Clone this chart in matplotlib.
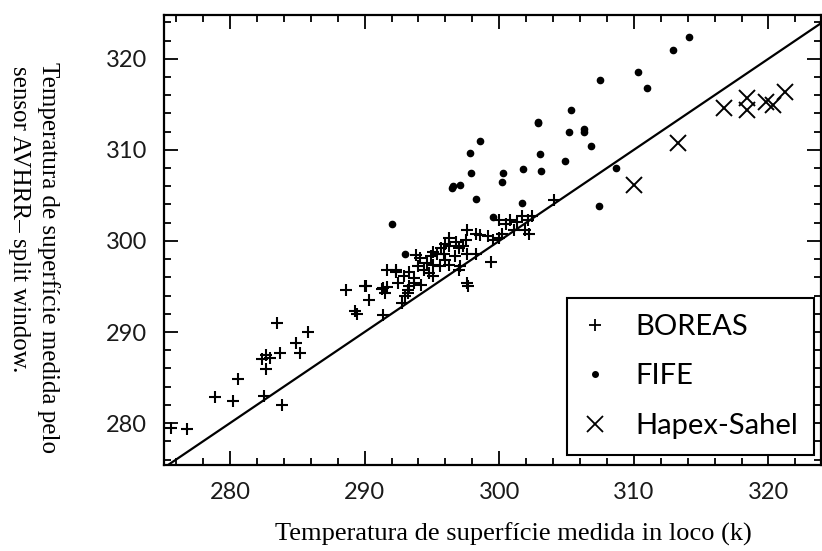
import numpy as np
import matplotlib
matplotlib.use("Agg")
import matplotlib.pyplot as plt
from matplotlib.lines import Line2D
from matplotlib.ticker import MultipleLocator

# surface temperature: in situ (x) vs AVHRR split window (y), kelvin
boreas_x = [275.6, 276.8, 278.9, 280.2, 280.6, 282.5, 283.9, 282.4, 282.7, 283.0,
            282.7, 283.7, 283.5, 284.9, 285.2, 285.8, 288.6, 289.3, 289.4, 290.0,
            290.1, 290.3, 291.3, 291.5, 291.4, 291.4, 291.7, 292.3, 291.7, 292.3,
            292.9, 292.5, 293.3, 293.2, 293.7, 294.0, 294.1, 294.6, 294.4, 294.9,
            295.1, 295.4, 295.7, 296.0, 295.9, 296.3, 296.3, 296.8, 297.0, 297.5,
            297.6, 293.8, 294.8, 293.7, 294.2, 295.1, 295.6, 296.7, 297.1, 298.3,
            298.6, 299.2, 299.5, 300.0, 298.3, 297.6, 297.0, 297.6, 297.7, 299.4,
            300.2, 300.5, 300.8, 301.3, 301.7, 302.1, 302.4, 301.1, 301.9, 302.2,
            300.0, 293.2, 293.0, 293.3, 295.1, 296.0, 296.3, 297.3, 304.1, 292.8]
boreas_y = [279.5, 279.3, 282.9, 282.4, 284.8, 283.0, 282.0, 287.0, 287.5, 287.2,
            285.9, 287.7, 291.0, 288.8, 287.7, 290.0, 294.6, 292.3, 292.0, 295.0,
            295.0, 293.5, 294.7, 294.3, 291.9, 294.8, 296.8, 296.8, 294.9, 296.6,
            296.1, 295.4, 295.0, 294.3, 295.9, 297.2, 298.1, 297.6, 296.8, 298.3,
            297.4, 298.6, 299.2, 299.7, 298.6, 299.4, 300.3, 299.9, 299.2, 300.1,
            298.6, 298.5, 296.5, 295.4, 295.2, 296.1, 297.2, 298.3, 297.2, 298.6,
            300.7, 300.5, 300.1, 300.3, 300.8, 301.2, 296.8, 295.4, 295.0, 297.7,
            300.8, 301.9, 302.3, 302.1, 302.7, 302.3, 302.7, 301.2, 301.2, 300.8,
            302.3, 294.6, 293.9, 296.6, 298.8, 297.9, 297.4, 299.4, 304.5, 293.2]

fife_x = [314.1, 312.9, 310.3, 311.0, 307.5, 305.3, 302.9, 302.9, 305.2, 306.3,
          306.3, 306.8, 298.6, 297.8, 303.0, 304.9, 297.9, 300.3, 300.2, 301.8,
          303.1, 296.6, 297.1, 296.5, 298.3, 301.7, 308.7, 307.4, 292.0, 299.5,
          293.0]
fife_y = [322.4, 321.0, 318.5, 316.8, 317.7, 314.4, 312.9, 313.1, 312.0, 312.3,
          312.0, 310.4, 311.0, 309.6, 309.5, 308.8, 307.5, 307.5, 306.5, 307.9,
          307.7, 306.0, 306.1, 305.8, 304.6, 304.2, 308.0, 303.8, 301.9, 302.6,
          298.6]

hapex_x = [310.0, 313.3, 316.7, 318.4, 318.4, 319.8, 320.3, 321.2]
hapex_y = [306.1, 310.8, 314.6, 315.7, 314.4, 315.3, 314.9, 316.3]

one_to_one = [270, 330]
ticks = [280, 290, 300, 310, 320]

fig = plt.figure(figsize=(8.22, 5.51), dpi=100)
ax = fig.add_axes([164 / 822, 86 / 551, 657 / 822, 450 / 551])

ax.plot(one_to_one, one_to_one, color='black', linewidth=1.6)
ax.plot(boreas_x, boreas_y, linestyle='none', marker='+', color='black',
        markersize=9, markeredgewidth=1.5)
ax.plot(fife_x, fife_y, linestyle='none', marker='o', color='black',
        markersize=4.5)
ax.plot(hapex_x, hapex_y, linestyle='none', marker='x', color='black',
        markersize=11, markeredgewidth=1.4)

ax.set_xlim(275.1, 323.9)
ax.set_ylim(275.4, 324.8)
ax.set_xticks(ticks)
ax.set_yticks(ticks)
ax.xaxis.set_minor_locator(MultipleLocator(2))
ax.yaxis.set_minor_locator(MultipleLocator(2))
ax.tick_params(which='both', direction='in', top=True, right=True, width=1.3)
ax.tick_params(which='major', length=10, pad=12)
ax.tick_params(which='minor', length=5)
for lab in ax.get_xticklabels() + ax.get_yticklabels():
    lab.set_fontfamily('Lato')
    lab.set_fontsize(17)
    lab.set_color('#1a1a1a')
for sp in ax.spines.values():
    sp.set_linewidth(1.6)

handles = [Line2D([], [], linestyle='none', marker='+', color='black', markersize=9, markeredgewidth=1.3),
           Line2D([], [], linestyle='none', marker='o', color='black', markersize=4),
           Line2D([], [], linestyle='none', marker='x', color='black', markersize=11, markeredgewidth=1.3)]
leg = ax.legend(handles, ['BOREAS', 'FIFE', 'Hapex-Sahel'],
                loc='upper left', bbox_to_anchor=(567 / 822, 1 - 298 / 551),
                bbox_transform=fig.transFigure, borderaxespad=0,
                prop={'family': 'Lato', 'size': 21}, fancybox=False,
                edgecolor='black', framealpha=1, handlelength=0.8,
                handletextpad=1.0, labelspacing=0.8, borderpad=0.55)
leg.get_frame().set_linewidth(1.5)

fig.text(513 / 822, 1 - 534 / 551, 'Temperatura de superfície medida in loco (k)',
         family='Liberation Serif', fontsize=19, ha='center', va='center')
fig.text(48 / 822, 1 - 258 / 551, 'Temperatura de superfície medida pelo',
         family='Liberation Serif', fontsize=18, ha='center', va='center', rotation=-90)
fig.text(19 / 822, 1 - 219 / 551, 'sensor AVHRR– split window.',
         family='Liberation Serif', fontsize=18, ha='center', va='center', rotation=-90)

plt.savefig('out.png', dpi=100)
